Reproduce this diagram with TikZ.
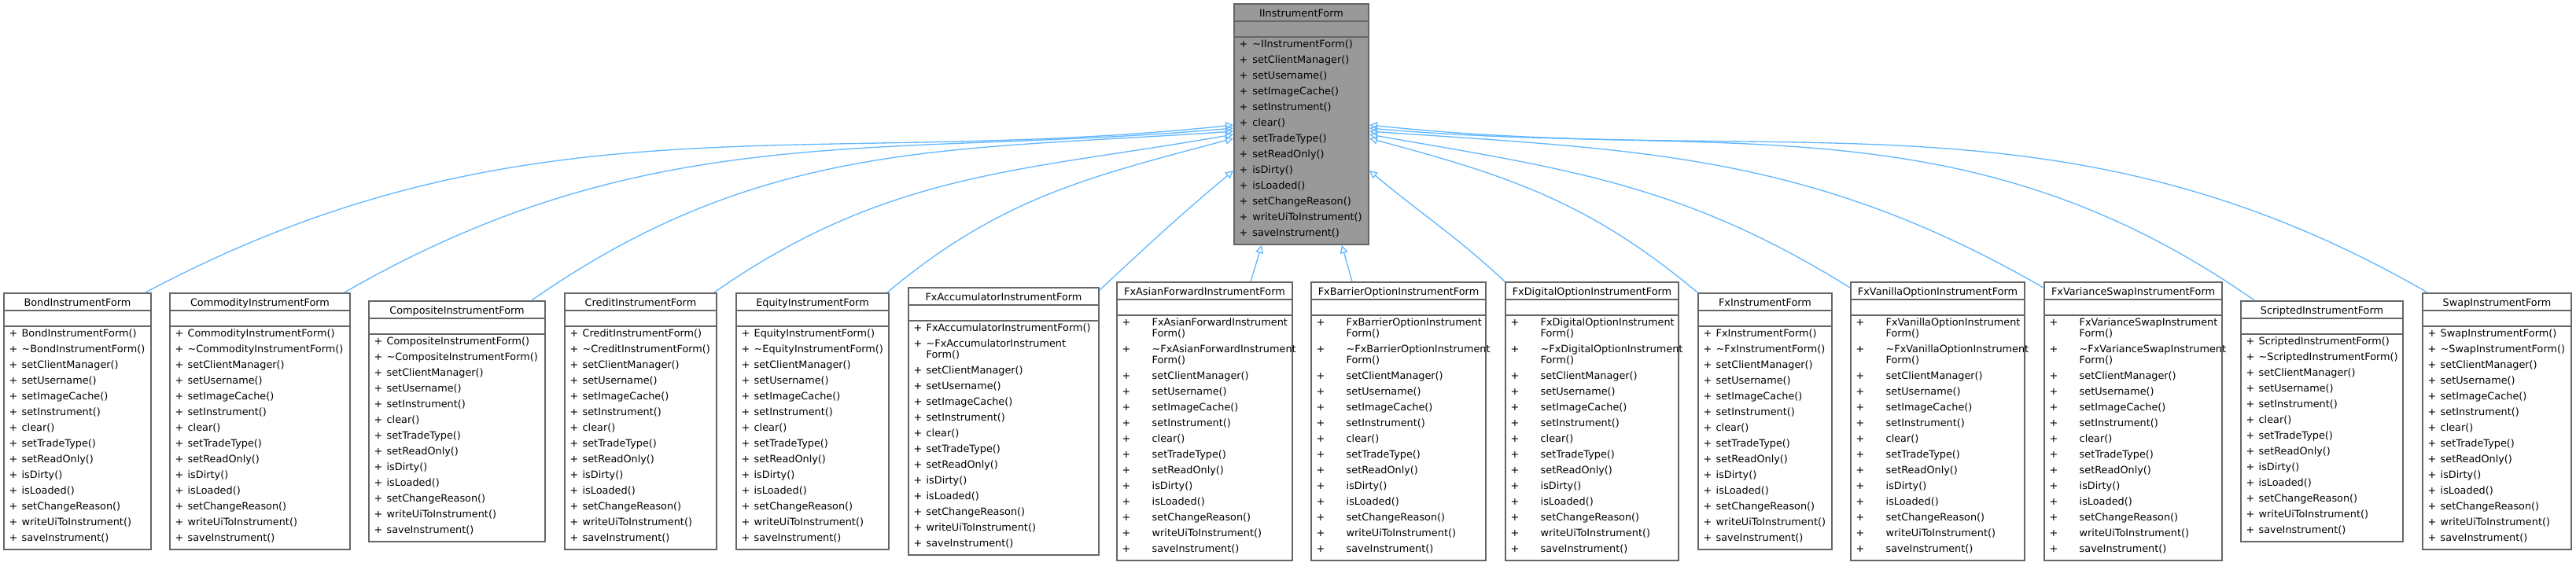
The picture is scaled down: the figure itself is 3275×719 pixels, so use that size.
\documentclass[tikz,border=0pt]{standalone}
\usepackage{fontspec}
\setmainfont{DejaVu Sans}
\usetikzlibrary{arrows.meta, positioning, calc, fit}
\definecolor{edgeblue}{RGB}{99, 184, 255}
\definecolor{boxgray}{RGB}{102, 102, 102}
\definecolor{basegray}{RGB}{153, 153, 153}
\newcommand\memberfont{\fontsize{3.85}{4.2}\selectfont}
\newcommand\m[1]{+ & #1\\[1.8pt]}
\newcommand\mw[2]{+ & #1\\ & #2\\[1.8pt]}
\newcommand\setters{\m{setClientManager()}\m{setUsername()}}
\newcommand\rest{\m{setInstrument()}\m{clear()}\m{setTradeType()}\m{setReadOnly()}\m{isDirty()}\m{isLoaded()}\m{setChangeReason()}\m{writeUiToInstrument()}\m{saveInstrument()}}
\newcommand\common{\setters\m{setImageCache()}\rest}
% class box: [fill]{name}{x1}{x2}{ytop}{ybot}{title}{plus column}{members}
\newcommand\classbox[9][white]{
  \node[boxline, fill=#1, fit={(#3,#5)(#4,#6)}] (#2) {};
  \node[font=\memberfont, anchor=base] at ($(#2.north)+(0,17)$) {#7};
  \draw[boxline] ($(#2.north west)+(0,23)$) -- ($(#2.north east)+(0,23)$);
  \draw[boxline] ($(#2.north west)+(0,43)$) -- ($(#2.north east)+(0,43)$);
  \node[anchor=north west, inner sep=0, font=\memberfont] at ($(#2.north west)+(7,46)$)
    {\begin{tabular}{@{}p{#8}@{}l@{}}#9\end{tabular}};
}
\tikzset{
  boxline/.style={draw=boxgray, line width=0.6pt, inner sep=0},
  inherit/.style={draw=edgeblue, line width=0.4pt, -{Triangle[open, length=3pt, width=3pt]}}
}

\begin{document}
\begin{tikzpicture}[x=0.3pt, y=-0.3pt]
    \useasboundingbox (0,0) rectangle (3275,719);

    % base class
    \classbox[basegray]{iform}{1569}{1740}{5}{311}{IInstrumentForm}{5pt}{\m{\textasciitilde IInstrumentForm()}\common}

    % derived classes
    \classbox{bond}{5}{192}{373}{699}{BondInstrumentForm}{4.8pt}{\m{BondInstrumentForm()}\m{\textasciitilde BondInstrumentForm()}\common}
    \classbox{commodity}{216}{445}{373}{699}{CommodityInstrumentForm}{4.8pt}{\m{CommodityInstrumentForm()}\m{\textasciitilde CommodityInstrumentForm()}\common}
    \classbox{composite}{469}{693}{383}{689}{CompositeInstrumentForm}{4.8pt}{\m{CompositeInstrumentForm()}\m{\textasciitilde CompositeInstrumentForm()}\setters\rest}
    \classbox{credit}{718}{911}{373}{699}{CreditInstrumentForm}{4.8pt}{\m{CreditInstrumentForm()}\m{\textasciitilde CreditInstrumentForm()}\common}
    \classbox{equity}{936}{1130}{373}{699}{EquityInstrumentForm}{4.8pt}{\m{EquityInstrumentForm()}\m{\textasciitilde EquityInstrumentForm()}\common}
    \classbox{fxacc}{1155}{1397}{366}{706}{FxAccumulatorInstrumentForm}{4.8pt}{\m{FxAccumulatorInstrumentForm()}\mw{\textasciitilde FxAccumulatorInstrument}{Form()}\common}
    \classbox{fxasian}{1420}{1643}{359}{713}{FxAsianForwardInstrumentForm}{11.4pt}{\mw{FxAsianForwardInstrument}{Form()}\mw{\textasciitilde FxAsianForwardInstrument}{Form()}\common}
    \classbox{fxbarrier}{1667}{1889}{359}{713}{FxBarrierOptionInstrumentForm}{11.4pt}{\mw{FxBarrierOptionInstrument}{Form()}\mw{\textasciitilde FxBarrierOptionInstrument}{Form()}\common}
    \classbox{fxdigital}{1914}{2134}{359}{713}{FxDigitalOptionInstrumentForm}{11.4pt}{\mw{FxDigitalOptionInstrument}{Form()}\mw{\textasciitilde FxDigitalOptionInstrument}{Form()}\common}
    \classbox{fxinst}{2159}{2329}{373}{699}{FxInstrumentForm}{4.8pt}{\m{FxInstrumentForm()}\m{\textasciitilde FxInstrumentForm()}\common}
    \classbox{fxvanilla}{2353}{2574}{359}{713}{FxVanillaOptionInstrumentForm}{11.4pt}{\mw{FxVanillaOptionInstrument}{Form()}\mw{\textasciitilde FxVanillaOptionInstrument}{Form()}\common}
    \classbox{fxvariance}{2599}{2825}{359}{713}{FxVarianceSwapInstrumentForm}{11.4pt}{\mw{FxVarianceSwapInstrument}{Form()}\mw{\textasciitilde FxVarianceSwapInstrument}{Form()}\common}
    \classbox{scripted}{2849}{3055}{383}{689}{ScriptedInstrumentForm}{4.8pt}{\m{ScriptedInstrumentForm()}\m{\textasciitilde ScriptedInstrumentForm()}\setters\rest}
    \classbox{swap}{3080}{3269}{373}{699}{SwapInstrumentForm}{4.8pt}{\m{SwapInstrumentForm()}\m{\textasciitilde SwapInstrumentForm()}\common}

    % inheritance, left side
    \draw[inherit] ($(bond.north east)+(-8,0)$) to[out=28, in=186] ($(iform.north west)+(0,155)$);
    \draw[inherit] ($(commodity.north east)+(-8,0)$) to[out=30, in=185] ($(iform.north west)+(0,159)$);
    \draw[inherit] ($(composite.north east)+(-18,0)$) to[out=35, in=184] ($(iform.north west)+(0,163)$);
    \draw[inherit] ($(credit.north east)+(-4,0)$) to[out=35, in=190] ($(iform.north west)+(0,167)$);
    \draw[inherit] ($(equity.north east)+(-3,0)$) to[out=40, in=195] ($(iform.north west)+(0,172)$);
    \draw[inherit] ($(fxacc.north east)+(0,4)$) to[out=43, in=220] ($(iform.north west)+(0,213)$);
    \draw[inherit] ($(fxasian.north east)+(-54,0)$) -- ($(iform.south west)+(36,0)$);
    % inheritance, right side
    \draw[inherit] ($(fxbarrier.north west)+(53,0)$) -- ($(iform.south east)+(-35,0)$);
    \draw[inherit] (fxdigital.north west) to[out=137, in=-40] ($(iform.north east)+(0,213)$);
    \draw[inherit] (fxinst.north west) to[out=140, in=-15] ($(iform.north east)+(0,172)$);
    \draw[inherit] ($(fxvanilla.north west)+(0,8)$) to[out=148, in=-10] ($(iform.north east)+(0,167)$);
    \draw[inherit] ($(fxvariance.north west)+(0,8)$) to[out=150, in=-4] ($(iform.north east)+(0,163)$);
    \draw[inherit] ($(scripted.north west)+(18,0)$) to[out=145, in=-5] ($(iform.north east)+(0,159)$);
    \draw[inherit] ($(swap.north west)+(7,0)$) to[out=150, in=-6] ($(iform.north east)+(0,155)$);
\end{tikzpicture}
\end{document}
